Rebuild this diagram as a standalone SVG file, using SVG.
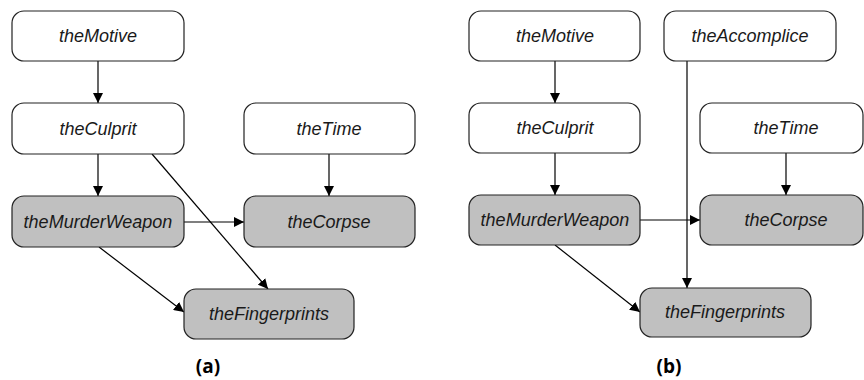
<svg xmlns="http://www.w3.org/2000/svg" width="864" height="380" viewBox="0 0 864 380">
<style>
.n{stroke:#222;stroke-width:1.2;}
.w{fill:#fff;}
.g{fill:#c0c0c0;}
.t{font-family:"Liberation Sans",Arial,sans-serif;font-style:italic;font-size:18px;fill:#1a1a1a;text-anchor:middle;}
.c{fill:none;stroke:#000;stroke-width:1.2;marker-end:url(#ah);}
.lb{font-family:"Open Sans","Liberation Sans",sans-serif;font-weight:bold;font-size:19px;fill:#000;text-anchor:middle;}
</style>
<defs>
<marker id="ah" viewBox="0 0 10 10" refX="10" refY="5" markerWidth="10" markerHeight="10" markerUnits="userSpaceOnUse" orient="auto">
<path d="M0,0 L10,5 L0,10 Z" fill="#000"/>
</marker>
</defs>
<rect width="864" height="380" fill="#fff"/>
<g id="connectors">
<line class="c" x1="98" y1="61" x2="98" y2="103"/>
<line class="c" x1="98" y1="154" x2="98" y2="196"/>
<line class="c" x1="152" y1="154" x2="268" y2="289"/>
<line class="c" x1="99" y1="247" x2="184" y2="312"/>
<line class="c" x1="184" y1="222" x2="244" y2="222"/>
<line class="c" x1="329" y1="154" x2="329" y2="196"/>
<line class="c" x1="555" y1="60" x2="555" y2="103"/>
<line class="c" x1="555" y1="153" x2="555" y2="195"/>
<line class="c" x1="687" y1="61" x2="687" y2="288"/>
<line class="c" x1="640" y1="220" x2="700" y2="220"/>
<line class="c" x1="786" y1="153" x2="786" y2="195"/>
<line class="c" x1="555" y1="245" x2="640" y2="312"/>
</g>
<g id="a-theMotive"><rect class="n w" x="12" y="11" width="172" height="50" rx="12"/><text class="t" x="98" y="42">theMotive</text></g>
<g id="a-theCulprit"><rect class="n w" x="12" y="103" width="172" height="51" rx="12"/><text class="t" x="98" y="135">theCulprit</text></g>
<g id="a-theTime"><rect class="n w" x="244" y="103" width="171" height="51" rx="12"/><text class="t" x="329" y="135">theTime</text></g>
<g id="a-theMurderWeapon"><rect class="n g" x="12" y="196" width="172" height="51" rx="12"/><text class="t" x="98" y="228">theMurderWeapon</text></g>
<g id="a-theCorpse"><rect class="n g" x="244" y="196" width="171" height="51" rx="12"/><text class="t" x="329" y="228">theCorpse</text></g>
<g id="a-theFingerprints"><rect class="n g" x="184" y="289" width="170" height="50" rx="12"/><text class="t" x="269" y="320">theFingerprints</text></g>
<text class="lb" x="208" y="373">(a)</text>
<g id="b-theMotive"><rect class="n w" x="469" y="11" width="171" height="50" rx="12"/><text class="t" x="555" y="42">theMotive</text></g>
<g id="b-theAccomplice"><rect class="n w" x="664" y="11" width="172" height="50" rx="12"/><text class="t" x="750" y="42">theAccomplice</text></g>
<g id="b-theCulprit"><rect class="n w" x="469" y="103" width="171" height="50" rx="12"/><text class="t" x="555" y="134">theCulprit</text></g>
<g id="b-theTime"><rect class="n w" x="700" y="103" width="163" height="50" rx="12"/><text class="t" x="786" y="134">theTime</text></g>
<g id="b-theMurderWeapon"><rect class="n g" x="469" y="195" width="171" height="50" rx="12"/><text class="t" x="555" y="226">theMurderWeapon</text></g>
<g id="b-theCorpse"><rect class="n g" x="700" y="195" width="163" height="50" rx="12"/><text class="t" x="786" y="226">theCorpse</text></g>
<g id="b-theFingerprints"><rect class="n g" x="640" y="288" width="171" height="49" rx="12"/><text class="t" x="725" y="318">theFingerprints</text></g>
<text class="lb" x="669" y="373">(b)</text>
</svg>
